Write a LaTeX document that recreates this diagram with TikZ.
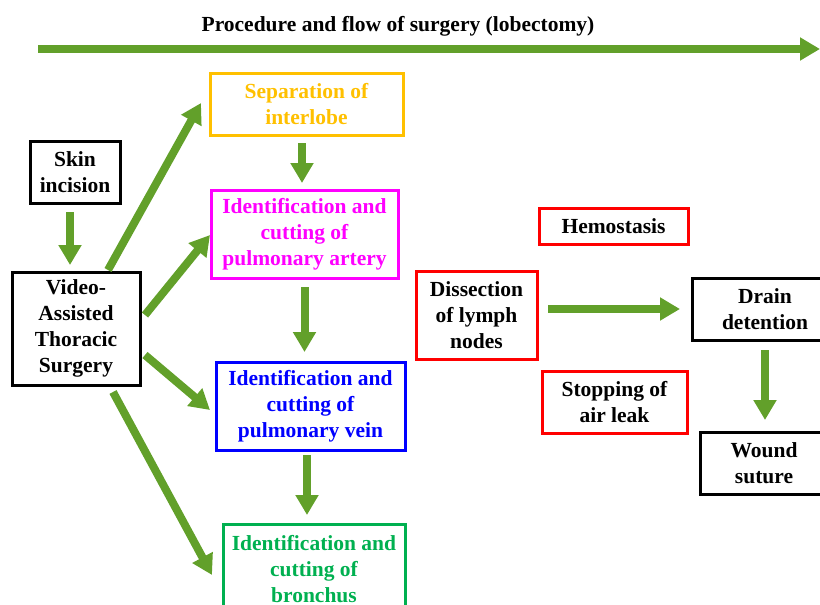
\documentclass[tikz,border=0pt]{standalone}
\usepackage{fontspec}
\setmainfont{Liberation Serif}
\usetikzlibrary{positioning}
\usetikzlibrary{calc}
\usetikzlibrary{arrows.meta}
\definecolor{flowgreen}{RGB}{98,160,42}
\definecolor{sepOrange}{RGB}{255,192,0}
\definecolor{artMagenta}{RGB}{255,0,255}
\definecolor{brGreen}{RGB}{0,176,80}
\begin{document}
\begin{tikzpicture}[x=1pt, y=-1pt,
    box/.style={draw, line width=3pt, align=center, inner sep=0pt, outer sep=0pt,
        font=\fontsize{21.5}{26}\selectfont\bfseries},
    flow/.style={draw=flowgreen, line width=8pt, -{Triangle[width=22pt,length=20pt]}}]
            \useasboundingbox (0,0) rectangle (820,605);

            % title and time line
            \node[font=\fontsize{21.5}{26}\selectfont\bfseries] (title) at (398,26) {Procedure and flow of surgery (lobectomy)};
            \coordinate (tstart) at (38,49);
            \coordinate (tend) at (820,49);
            \draw[flow] (tstart) -- (tend);

            % access
            \node[box, minimum width=90pt, minimum height=62pt] (skin) at (75,172) {Skin\\incision};
            \node[box, minimum width=128pt, minimum height=113pt, below = 69pt of skin, xshift=1pt] (vats) {Video-\\Assisted\\Thoracic\\Surgery};

            % lobectomy steps
            \node[box, draw=sepOrange, text=sepOrange, minimum width=193pt, minimum height=62pt] (sep) at (306.5,104) {Separation of\\interlobe};
            \node[box, draw=artMagenta, text=artMagenta, minimum width=187pt, minimum height=88pt, below = 55pt of sep, xshift=-2pt] (art) {Identification and\\cutting of\\pulmonary artery};
            \node[box, draw=blue, text=blue, minimum width=189pt, minimum height=88pt, below = 84pt of art, xshift=6pt] (vein) {Identification and\\cutting of\\pulmonary vein};
            \node[box, draw=brGreen, text=brGreen, minimum width=182pt, minimum height=90pt, below = 74pt of vein, xshift=3.5pt] (bron) {Identification and\\cutting of\\bronchus};

            % after resection
            \node[box, draw=red, minimum width=121pt, minimum height=88pt] (lymph) at (476.5,315) {Dissection\\of lymph\\nodes};
            \node[box, draw=red, minimum width=149pt, minimum height=36pt] (hemo) at (613.5,226) {Hemostasis};
            \node[box, draw=red, minimum width=145pt, minimum height=62pt] (air) at (614.5,402) {Stopping of\\air leak};
            \node[box, minimum width=146pt, minimum height=62pt] (drain) at (765,309) {Drain\\detention};
            \node[box, minimum width=128pt, minimum height=62pt, below = 92pt of drain, xshift=-1pt] (wound) {Wound\\suture};

            \draw[flow, shorten <=9pt, shorten >=7pt] ([xshift=-5pt]skin.south) -- ([xshift=-5pt]skin.south |- vats.north);
            \draw[flow] ([xshift=32pt,yshift=2pt]vats.north) -- ([xshift=-9pt,yshift=1pt]sep.west);
            \draw[flow] ([xshift=5pt,yshift=13.5pt]vats.east) -- ([xshift=-1pt,yshift=-1pt]art.west);
            \draw[flow] ([xshift=5pt,yshift=-26.5pt]vats.east) -- ([xshift=-6pt,yshift=-4pt]vein.west);
            \draw[flow] ([xshift=37pt,yshift=-7pt]vats.south) -- ([xshift=-11pt,yshift=-6pt]bron.west);

            \draw[flow, shorten <=8pt, shorten >=7pt] ([xshift=-4.5pt]sep.south) -- ([xshift=-4.5pt]sep.south |- art.north);
            \draw[flow, shorten <=9pt, shorten >=10pt] (art.south) -- (art.south |- vein.north);
            \draw[flow, shorten <=5pt, shorten >=9pt] ([xshift=-3.5pt]vein.south) -- ([xshift=-3.5pt]vein.south |- bron.north);
            \draw[flow, shorten <=11pt, shorten >=12pt] (lymph.east |- drain.west) -- (drain.west);
            \draw[flow, shorten <=10pt, shorten >=12pt] (drain.south) -- (drain.south |- wound.north);
        \end{tikzpicture}
\end{document}
